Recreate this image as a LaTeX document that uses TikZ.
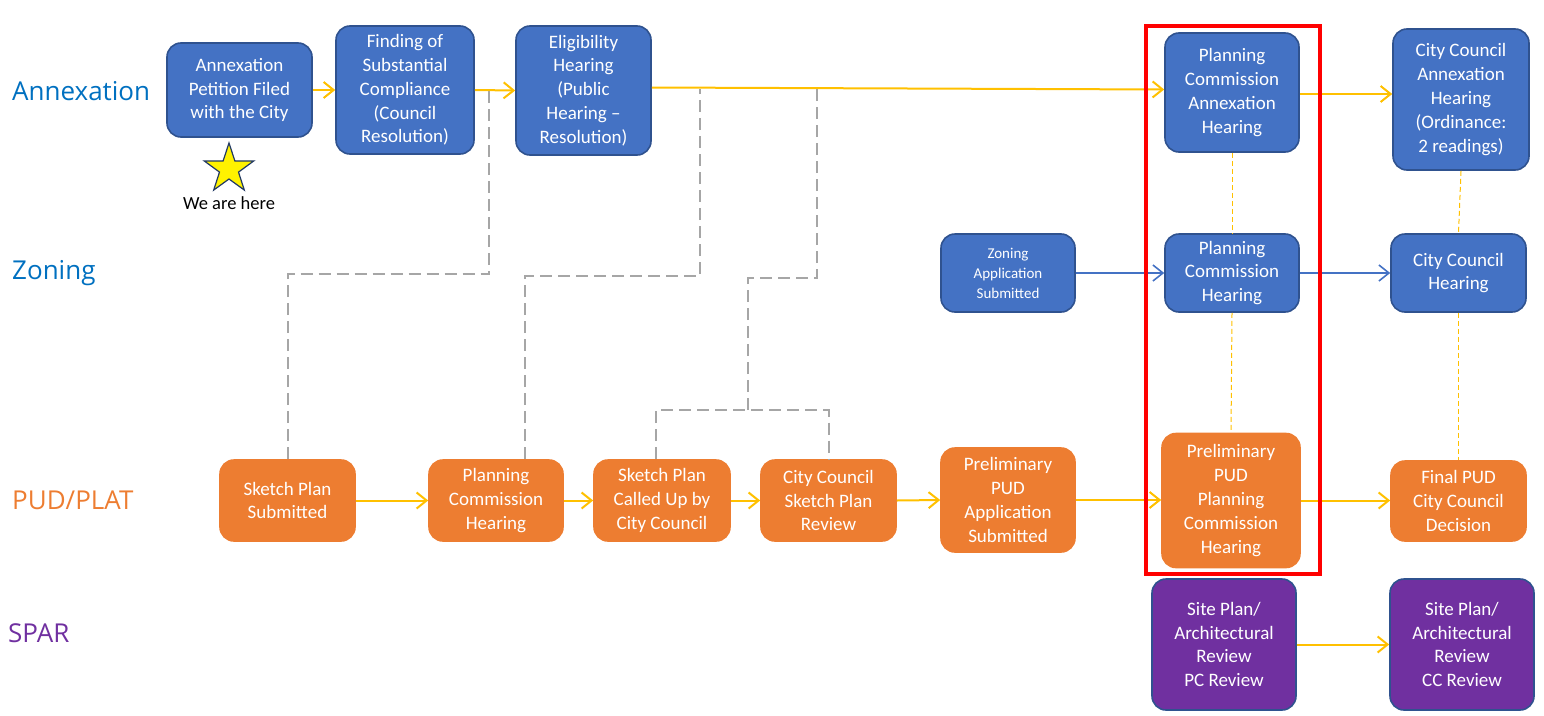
\documentclass[tikz,border=0pt]{standalone}
\usepackage{fontspec}
\setmainfont{Carlito}
\newfontfamily\lanefont{Open Sans}
\usetikzlibrary{arrows.meta,shapes.geometric}
\definecolor{bfill}{HTML}{4472C4}
\definecolor{bdraw}{HTML}{2F528F}
\definecolor{ofill}{HTML}{ED7D31}
\definecolor{pfill}{HTML}{7030A0}
\definecolor{gold}{HTML}{FFC000}
\definecolor{lblue}{HTML}{0070C0}
\definecolor{dgray}{HTML}{A6A6A6}
\definecolor{redbox}{HTML}{FF0000}
\begin{document}
\begin{tikzpicture}[x=1pt,y=-1pt,
  box/.style={rounded corners=14pt, text=white, align=center,
    font=\fontsize{19}{23.8}\selectfont, inner sep=0pt, line width=1.6pt},
  bbox/.style={box, fill=bfill, draw=bdraw},
  obox/.style={box, fill=ofill, draw=ofill},
  pbox/.style={box, fill=pfill, draw=bdraw},
  sz/.style 2 args={minimum width=#1pt, minimum height=#2pt},
  lane/.style={anchor=west, font=\lanefont\fontsize{26}{30}\selectfont, inner sep=0pt},
  yarr/.style={draw=gold, line width=2pt, -{Straight Barb[length=10pt,width=16pt,line width=2pt]}},
  barr/.style={draw=bfill, line width=1.6pt, -{Straight Barb[length=10pt,width=16pt,line width=1.6pt]}},
  gdash/.style={draw=dgray, line width=2pt, dash pattern=on 12pt off 6pt},
  ydash/.style={draw=gold, line width=1pt, dash pattern=on 5pt off 3pt},
]
\useasboundingbox (0,0) rectangle (1544,715);

% lane labels
\node[lane, text=lblue] (lA) at (12,91) {Annexation};
\node[lane, text=lblue] (lZ) at (12,273) {Zoning};
\node[lane, text=ofill] (lP) at (12,500) {PUD/PLAT};
\node[lane, text=pfill] (lS) at (8,633) {SPAR};

% annexation row
\node[bbox, sz={145}{94}] (a1) at (239.5,90) {Annexation\\Petition Filed\\with the City};
\node[bbox, sz={138}{128}] (a2) at (405,90) {Finding of\\Substantial\\Compliance\\(Council\\Resolution)};
\node[bbox, sz={135}{129}] (a3) at (583.5,90.5) {Eligibility\\Hearing\\(Public\\Hearing --\\Resolution)};
\node[bbox, sz={134}{119}] (a4) at (1232,92.5) {Planning\\Commission\\Annexation\\Hearing};
\node[bbox, sz={136}{141}] (a5) at (1461,99.5) {City Council\\Annexation\\Hearing\\(Ordinance:\\2 readings)};

% star
\node[star, star points=5, star point ratio=2.6, minimum size=52pt, inner sep=0pt,
  fill=yellow, draw=bdraw!70!black, line width=1.2pt] (star) at (229,169) {};
\node[font=\fontsize{18.5}{22}\selectfont, inner sep=0pt] (here) at (229,203) {We are here};

% zoning row
\node[bbox, sz={134}{78}, font=\fontsize{15}{20}\selectfont] (z1) at (1008,273) {Zoning\\Application\\Submitted};
\node[bbox, sz={134}{78}] (z2) at (1232,273) {Planning\\Commission\\Hearing};
\node[bbox, sz={135}{78}] (z3) at (1458.5,273) {City Council\\Hearing};

% PUD row
\node[obox, sz={135}{81}] (p1) at (287.5,500.5) {Sketch Plan\\Submitted};
\node[obox, sz={134}{81}] (p2) at (496,500.5) {Planning\\Commission\\Hearing};
\node[obox, sz={136}{81}] (p3) at (662,500.5) {Sketch Plan\\Called Up by\\City Council};
\node[obox, sz={135}{81}] (p4) at (828.5,500.5) {City Council\\Sketch Plan\\Review};
\node[obox, sz={134}{104}] (p5) at (1008,500) {Preliminary\\PUD\\Application\\Submitted};
\node[obox, sz={138}{134}] (p6) at (1231,500.5) {Preliminary\\PUD\\Planning\\Commission\\Hearing};
\node[obox, sz={135}{80}] (p7) at (1458.5,501) {Final PUD\\City Council\\Decision};

% SPAR row
\node[pbox, sz={144}{131}] (s1) at (1224,644.5) {Site Plan/\\Architectural\\Review\\PC Review};
\node[pbox, sz={144}{131}] (s2) at (1462,644.5) {Site Plan/\\Architectural\\Review\\CC Review};

% junction coordinates on the annexation arrows
\coordinate (c1) at (489,90);
\coordinate (c2) at (700,89);
\coordinate (c3) at (817,88);

% grey dashed links
\draw[gdash] (p1.north) -- ++(0,-185) -| (c1);
\draw[gdash] ([xshift=29pt]p2.north) -- ++(0,-183) -| (c2);
\draw[gdash] ([xshift=-6pt]p3.north) -- ++(0,-49) coordinate (m) -| (p4.north);
\draw[gdash] (m -| 748,0) -- ++(0,-132) -| (c3);

% yellow dashed verticals
\draw[ydash] (a4.south) -- (z2.north);
\draw[ydash] (z2.south) -- (p6.north);
\draw[ydash] (a5.south) -- (z3.north);
\draw[ydash] (z3.south) -- (p7.north);

% arrows
\draw[yarr] (a1.east) -- (a2.west);
\draw[yarr] (a2.east) -- (a3.west);
\draw[yarr] ([yshift=3pt]a3.east) -- ([yshift=3pt]a4.west);
\draw[yarr] ([yshift=-1.5pt]a4.east) -- ([yshift=-1.5pt]a4.east -| a5.west);
\draw[barr] (z1.east) -- (z2.west);
\draw[barr] (z2.east) -- (z3.west);
\draw[yarr] (p1.east) -- (p2.west);
\draw[yarr] (p2.east) -- (p3.west);
\draw[yarr] (p3.east) -- (p4.west);
\draw[yarr] (p4.east) -- (p5.west);
\draw[yarr] (p5.east) -- (p5.east -| p6.west);
\draw[yarr] (p6.east) -- (p6.east -| p7.west);
\draw[yarr] (s1.east) -- (s1.east -| s2.west);

% red highlight frame
\draw[draw=redbox, line width=4pt] (1146,26) rectangle (1320,574);
\end{tikzpicture}
\end{document}
